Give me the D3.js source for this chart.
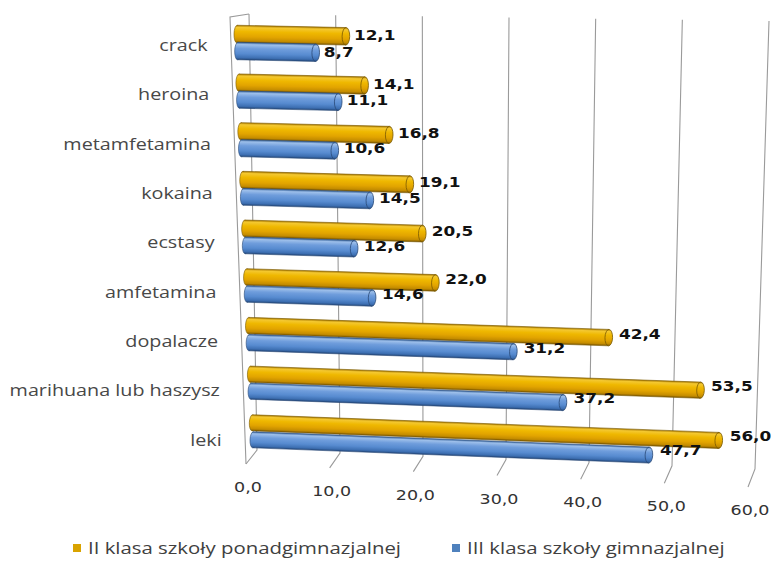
<!DOCTYPE html>
<html>
<head>
<meta charset="utf-8">
<script src="https://cdn.jsdelivr.net/npm/d3@7"></script>
<style>
  body { margin: 0; background: #fff; }
  svg { display: block; }
</style>
</head>
<body>
<div id="chart"></div>
<script>
// Données du graphique (de haut en bas)
const categories = ['crack', 'heroina', 'metamfetamina', 'kokaina', 'ecstasy',
                    'amfetamina', 'dopalacze', 'marihuana lub haszysz', 'leki'];
const seriesNames = ['II klasa szkoły ponadgimnazjalnej', 'III klasa szkoły gimnazjalnej'];
const valuesII = [12.1, 14.1, 16.8, 19.1, 20.5, 22.0, 42.4, 53.5, 56.0];
const valuesIII = [8.7, 11.1, 10.6, 14.5, 12.6, 14.6, 31.2, 37.2, 47.7];
const tickValues = [0, 10, 20, 30, 40, 50, 60];

const WIDTH = 771;
const HEIGHT = 563;
const SX = 1.25;          // le texte de l'original est étiré horizontalement
const SERIES_GAP = 0.35;  // décalage entre les deux barres d'une catégorie
const BAR_H = 17.5;

const fmt = v => v.toFixed(1).replace('.', ',');

// Position verticale des catégories
const rowScale = d3.scalePoint().domain(categories).range([0, 8]);
const MAX_POS = 8 + SERIES_GAP;

/**
 * Plan des barres : renvoie deux échelles (x et y) pour une rangée donnée
 */
function barFrame(pos) {
    const t = pos / MAX_POS;
    const x0 = 237 + 16 * t;
    const y0 = 34 + 48.6 * pos;
    const kx = 9.0 - 0.7 * t;
    const ky = 0.19 + 0.13 * t;
    return {
        t: t,
        x: d3.scaleLinear().domain([0, 60]).range([x0, x0 + 60 * kx]),
        y: d3.scaleLinear().domain([0, 60]).range([y0, y0 + 60 * ky])
    };
}

// Mur du fond et sol
const wallTopX = d3.scaleLinear().domain([0, 60]).range([249, 769]);
const wallTopY = d3.scaleLinear().domain([0, 60]).range([14, 21]);
const wallBotX = d3.scaleLinear().domain([0, 60]).range([257, 755]);
const wallBotY = d3.scaleLinear().domain([0, 60]).range([450, 469]);
const floorX = d3.scaleLinear().domain([0, 60]).range([246, 748]);
const floorY = d3.scaleLinear().domain([0, 60]).range([464, 487]);

const svg = d3.select('#chart').append('svg')
    .attr('width', WIDTH)
    .attr('height', HEIGHT);

// Dégradés des cylindres
const defs = svg.append('defs');
const palettes = [
    { id: 'gold', stops: ['#a87800', '#f4c830', '#efb800', '#e2a400', '#c48c00', '#7a5500'], stroke: '#7a5a00' },
    { id: 'blue', stops: ['#36629a', '#9dbfea', '#6f9ddc', '#578bd0', '#3d6fb2', '#24487a'], stroke: '#2a4a78' }
];
palettes.forEach(p => {
    const grad = defs.append('linearGradient')
        .attr('id', 'grad-' + p.id)
        .attr('x1', 0).attr('y1', 0).attr('x2', 0).attr('y2', 1);
    [0, 0.12, 0.35, 0.65, 0.88, 1].forEach((o, i) => {
        grad.append('stop').attr('offset', o).attr('stop-color', p.stops[i]);
    });
});

// Grille du mur du fond + traits du sol
const grid = svg.append('g').attr('stroke', '#9a9a9a').attr('stroke-width', 1.1).attr('fill', 'none');
tickValues.forEach(v => {
    grid.append('path')
        .attr('d', `M${wallTopX(v)},${wallTopY(v)} L${wallBotX(v)},${wallBotY(v)} L${floorX(v)},${floorY(v)}`);
});

// Mur de gauche (arête avant)
grid.append('path')
    .attr('d', `M${wallTopX(0)},${wallTopY(0)} L230,17 L${floorX(0)},${floorY(0)}`);

// Texte étiré horizontalement
function stretchedText(parent, x, y, anchor) {
    return parent.append('text')
        .attr('transform', `translate(${x},${y}) scale(${SX},1)`)
        .attr('text-anchor', anchor);
}

// Libellés de l'axe des valeurs
const axisG = svg.append('g')
    .attr('font-family', 'DejaVu Sans, Verdana, sans-serif')
    .attr('font-size', '14px')
    .attr('fill', '#333');
tickValues.forEach(v => {
    stretchedText(axisG, floorX(v) + 2, floorY(v) + 28, 'middle').text(fmt(v));
});

// Libellés des catégories
const catG = svg.append('g')
    .attr('font-family', 'Open Sans, sans-serif')
    .attr('font-size', '15.8px')
    .attr('fill', '#484848');
categories.forEach(c => {
    const pos = rowScale(c);
    const f = barFrame(pos + SERIES_GAP / 2);
    const y = f.y(0) + 3 + 6 * f.t;
    const wallX = 230 + (y - 17) * 16 / 447;
    stretchedText(catG, wallX - 23.5, y + 5.5, 'end').text(c);
});

// Barres cylindriques
const barsG = svg.append('g');
const labelsG = svg.append('g')
    .attr('font-family', 'DejaVu Sans, Verdana, sans-serif')
    .attr('font-weight', 'bold')
    .attr('font-size', '13.5px')
    .attr('fill', '#111');

const series = [valuesII, valuesIII];
categories.forEach((c, i) => {
    series.forEach((vals, s) => {
        const p = palettes[s];
        const v = vals[i];
        const f = barFrame(rowScale(c) + s * SERIES_GAP);
        const x0 = f.x(0), y0 = f.y(0);
        const x1 = f.x(v), y1 = f.y(v);
        const len = Math.hypot(x1 - x0, y1 - y0);
        const angle = Math.atan2(y1 - y0, x1 - x0) * 180 / Math.PI;
        const h = BAR_H - 1.5 * f.t;

        const g = barsG.append('g')
            .attr('transform', `translate(${x0},${y0}) rotate(${angle})`);
        g.append('ellipse')
            .attr('cx', 0).attr('cy', 0)
            .attr('rx', 3).attr('ry', h / 2)
            .attr('fill', `url(#grad-${p.id})`)
            .attr('stroke', p.stroke).attr('stroke-width', 0.6);
        g.append('rect')
            .attr('x', 0).attr('y', -h / 2)
            .attr('width', len).attr('height', h)
            .attr('fill', `url(#grad-${p.id})`);
        g.append('path')
            .attr('d', `M0,${-h / 2} H${len} M0,${h / 2} H${len}`)
            .attr('stroke', p.stroke).attr('stroke-width', 0.6).attr('fill', 'none');
        g.append('ellipse')
            .attr('cx', len).attr('cy', 0)
            .attr('rx', 3.8).attr('ry', h / 2)
            .attr('fill', `url(#grad-${p.id})`)
            .attr('stroke', p.stroke).attr('stroke-width', 0.8);

        stretchedText(labelsG, x1 + 8 + 3 * f.t, y1 - 1 - 4 * f.t + 5, 'start').text(fmt(v));
    });
});

// Légende
const legend = svg.append('g')
    .attr('font-family', 'Open Sans, sans-serif')
    .attr('font-size', '16.3px')
    .attr('fill', '#404040');
const legendX = [73, 452];
seriesNames.forEach((name, s) => {
    legend.append('rect')
        .attr('x', legendX[s]).attr('y', 544)
        .attr('width', 8).attr('height', 8)
        .attr('fill', s === 0 ? '#d9a300' : '#4f81bd');
    stretchedText(legend, legendX[s] + 15, 553.5, 'start').text(name);
});
</script>
</body>
</html>
